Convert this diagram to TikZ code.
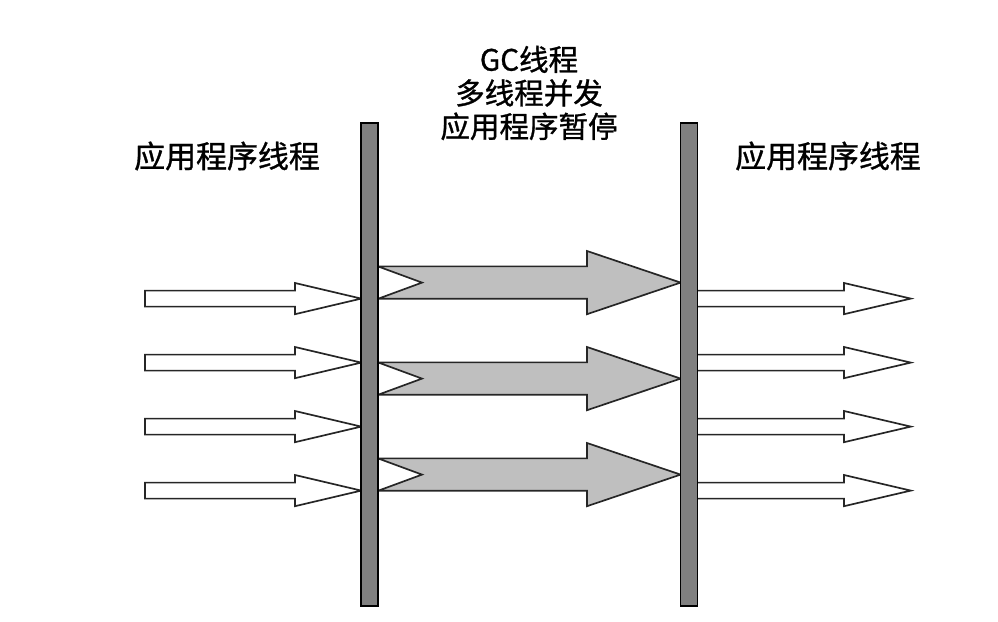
\documentclass[tikz,border=0pt]{standalone}
\usepackage{fontspec}
\newfontfamily\cjk[FakeBold=1]{Noto Sans CJK SC}
\usepackage{tikz}
\usetikzlibrary{calc}

\begin{document}
\begin{tikzpicture}[every node/.style={font=\cjk\fontsize{22}{26}\selectfont},
		bar/.style={draw=black, line width=1.2pt, fill=black!50, inner sep=0pt, minimum width=0.42cm, minimum height=12.08cm},
		thinarrow/.style={draw=black!85, line width=1.2pt, fill=white},
		fatarrow/.style={draw=black!85, line width=1.2pt, fill=black!25}]
	\useasboundingbox (0,0) rectangle (24.95,15.525);

	% application threads before the pause
	\foreach \y in {8.06,6.46,4.86,3.26} {
		\draw[thinarrow] (3.625,\y+0.2) -- (7.375,\y+0.2) -- (7.375,\y+0.39)
			-- (9.03,\y) -- (7.375,\y-0.39) -- (7.375,\y-0.2) -- (3.625,\y-0.2) -- cycle;
	}

	% GC threads, running in parallel
	\foreach \y in {8.46,6.06,3.66} {
		\draw[fatarrow] (9.45,\y+0.405) -- (14.675,\y+0.405) -- (14.675,\y+0.79)
			-- (17.015,\y) -- (14.675,\y-0.79) -- (14.675,\y-0.405) -- (9.45,\y-0.405)
			-- (10.55,\y) -- cycle;
	}

	% application threads after the pause
	\foreach \y in {8.06,6.46,4.86,3.26} {
		\draw[thinarrow] (17.435,\y+0.2) -- (21.1,\y+0.2) -- (21.1,\y+0.39)
			-- (22.77,\y) -- (21.1,\y-0.39) -- (21.1,\y-0.2) -- (17.435,\y-0.2);
	}

	\node[bar] (stopbar) at (9.2375,6.4125) {};
	\node[bar] (resumebar) at (17.225,6.4125) {};

	\node (appbefore) at (5.675,11.625) {应用程序线程};
	\node (appafter) at (20.7,11.625) {应用程序线程};
	\node[align=center, font=\cjk\fontsize{21}{23.8}\selectfont] (gcphase) at (13.225,13.2)
		{GC线程\\多线程并发\\应用程序暂停};
\end{tikzpicture}
\end{document}
